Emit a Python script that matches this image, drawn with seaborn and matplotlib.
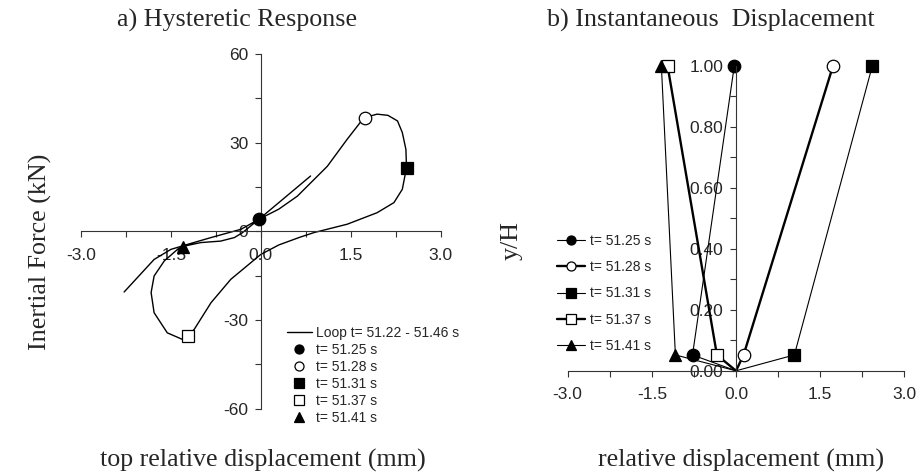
import matplotlib
matplotlib.use('Agg')
import matplotlib.pyplot as plt
from matplotlib.lines import Line2D
from matplotlib.ticker import MultipleLocator, FormatStrFormatter
import seaborn as sns

# a) hysteretic loop, t = 51.22 - 51.46 s (displacement in mm, force in kN)
loop_x = [-2.28, -1.83, -1.78, -1.5, -1.17, -0.83, -0.33, -0.03, 0.3, 0.61, 1.11, 1.44,
          1.72, 1.94, 2.12, 2.28, 2.36, 2.42, 2.43, 2.36, 2.22, 1.94, 1.44, 0.89, 0.65,
          0.3, 0.0, -0.5, -0.83, -1.11, -1.22, -1.31, -1.56, -1.78, -1.83, -1.78, -1.61,
          -1.39, -1.28, -1.0, -0.67, -0.44, -0.31, -0.17, -0.03, 0.83]
loop_y = [-20.5, -10.6, -9.5, -6.1, -4.1, -2.1, 0.7, 4.1, 7.5, 11.9, 22.0, 31.1,
          38.4, 39.6, 39.2, 37.3, 33.4, 27.7, 21.5, 14.2, 9.7, 6.3, 2.4, -0.4, -2.0,
          -4.6, -7.8, -16.2, -24.1, -33.1, -35.4, -36.5, -34.3, -27.5, -20.7, -15.1, -10.0,
          -6.1, -5.0, -3.8, -3.3, -2.1, -0.5, 1.8, 4.1, 18.7]

times = ['t= 51.25 s', 't= 51.28 s', 't= 51.31 s', 't= 51.37 s', 't= 51.41 s']
snap_x = [-0.03, 1.74, 2.43, -1.22, -1.29]
snap_y = [4.1, 38.4, 21.4, -35.4, -5.2]

# b) instantaneous displacement profiles
heights = [0.0, 0.052, 1.0]
disp_5125 = [0.0, -0.775, -0.03]
disp_5128 = [0.0, 0.135, 1.73]
disp_5131 = [0.0, 1.04, 2.43]
disp_5137 = [0.0, -0.34, -1.22]
disp_5141 = [0.0, -1.08, -1.33]
profiles = [disp_5125, disp_5128, disp_5131, disp_5137, disp_5141]

markers = ['o', 'o', 's', 's', '^']
faces = ['black', 'white', 'black', 'white', 'black']
widths = [0.8, 1.7, 0.8, 1.7, 0.8]

sns.set_theme(style='ticks')
plt.rcParams['font.family'] = ['Liberation Sans', 'DejaVu Sans']
plt.rcParams['axes.unicode_minus'] = False
serif = ['Liberation Serif', 'DejaVu Serif']

fig = plt.figure(figsize=(9.2, 4.76), dpi=100)
ax1 = fig.add_axes([0.088, 0.141, 0.391, 0.746])
ax2 = fig.add_axes([0.617, 0.221, 0.366, 0.641])


def style_axes(ax):
    for side in ['top', 'right']:
        ax.spines[side].set_visible(False)
    for side in ['left', 'bottom']:
        ax.spines[side].set_position(('data', 0))
        ax.spines[side].set_color('#333333')
        ax.spines[side].set_linewidth(0.8)
    ax.tick_params(which='major', direction='out', length=4, width=0.8,
                   color='#333333', labelsize=12.5, pad=5)
    ax.tick_params(axis='x', which='major', pad=8)
    ax.tick_params(which='minor', direction='out', length=4, width=0.8,
                   color='#333333')
    ax.xaxis.set_major_locator(MultipleLocator(1.5))
    ax.xaxis.set_minor_locator(MultipleLocator(0.75))
    ax.xaxis.set_major_formatter(FormatStrFormatter('%.1f'))
    ax.set_xlim(-3, 3)
    ax.set_facecolor('white')


# left panel
style_axes(ax1)
ax1.set_ylim(-60, 60)
ax1.yaxis.set_major_locator(MultipleLocator(30))
ax1.yaxis.set_minor_locator(MultipleLocator(15))
sns.lineplot(x=loop_x, y=loop_y, sort=False, estimator=None, color='black',
             lw=1.0, ax=ax1, legend=False)
for i in range(len(times)):
    ax1.plot(snap_x[i], snap_y[i], linestyle='none', marker=markers[i], ms=9,
             mfc=faces[i], mec='black', mew=0.9, zorder=5, clip_on=False)

hand1 = [Line2D([], [], color='black', lw=1.0)]
for i in range(len(times)):
    hand1.append(Line2D([], [], linestyle='none', marker=markers[i], ms=6.5,
                        mfc=faces[i], mec='black', mew=0.9))
ax1.legend(hand1, ['Loop t= 51.22 - 51.46 s'] + times, loc='upper left',
           bbox_to_anchor=(287 / 920, 1 - 326 / 476), bbox_transform=fig.transFigure,
           frameon=False, fontsize=10, handlelength=1.8, handletextpad=0.3,
           labelspacing=0.22, borderpad=0, borderaxespad=0)

# right panel
style_axes(ax2)
ax2.set_ylim(0, 1.0)
ax2.yaxis.set_major_locator(MultipleLocator(0.2))
ax2.yaxis.set_minor_locator(MultipleLocator(0.1))
ax2.yaxis.set_major_formatter(FormatStrFormatter('%.2f'))
hand2 = []
for i in range(len(times)):
    sns.lineplot(x=profiles[i], y=heights, sort=False, estimator=None, color='black',
                 lw=widths[i], marker=markers[i], markevery=[1, 2], ms=9,
                 mfc=faces[i], mec='black', mew=0.9, ax=ax2, legend=False,
                 clip_on=False)
    hand2.append(Line2D([], [], color='black', lw=widths[i], marker=markers[i], ms=6.5,
                        mfc=faces[i], mec='black', mew=0.9))
ax2.legend(hand2, times, loc='upper left',
           bbox_to_anchor=(557 / 920, 1 - 234 / 476), bbox_transform=fig.transFigure,
           frameon=False, fontsize=10, handlelength=2.0, handletextpad=0.4,
           labelspacing=0.88, borderpad=0, borderaxespad=0)

# titles and axis labels
big = 18.7
fig.text(237 / 920, 1 - 20 / 476, 'a) Hysteretic Response', ha='center', va='center',
         family=serif, fontsize=big)
fig.text(711 / 920, 1 - 20 / 476, 'b) Instantaneous  Displacement', ha='center',
         va='center', family=serif, fontsize=big)
fig.text(263 / 920, 1 - 460 / 476, 'top relative displacement (mm)', ha='center',
         va='center', family=serif, fontsize=big)
fig.text(741 / 920, 1 - 460 / 476, 'relative displacement (mm)', ha='center',
         va='center', family=serif, fontsize=big)
fig.text(40 / 920, 1 - 252 / 476, 'Inertial Force (kN)', ha='center', va='center',
         rotation=90, family=serif, fontsize=big)
fig.text(512 / 920, 1 - 240 / 476, 'y/H', ha='center', va='center',
         rotation=90, family=serif, fontsize=big)

fig.savefig('out.png', dpi=100, facecolor='white')
